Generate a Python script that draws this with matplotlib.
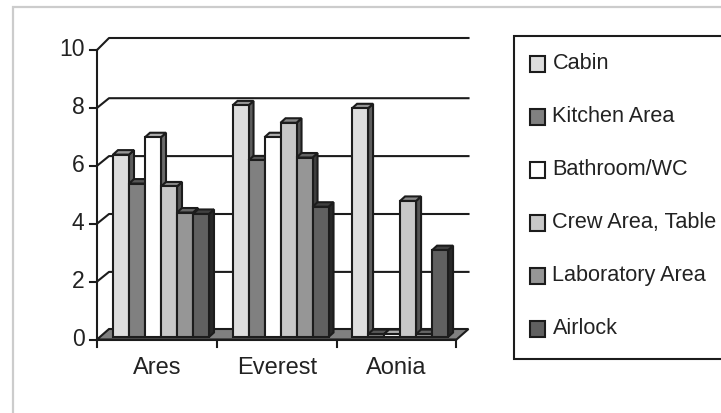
import matplotlib
matplotlib.use("Agg")
import matplotlib.pyplot as plt
from matplotlib.patches import Polygon, Rectangle
from matplotlib.colors import to_rgb

categories = ["Ares", "Everest", "Aonia"]
series = ["Cabin", "Kitchen Area", "Bathroom/WC", "Crew Area, Table", "Laboratory Area", "Airlock"]
cabin = [6.3, 8.0, 7.9]
kitchen = [5.3, 6.1, 0.1]
bathroom = [6.9, 6.9, 0.1]
crew = [5.2, 7.4, 4.7]
laboratory = [4.3, 6.2, 0.1]
airlock = [4.25, 4.5, 3.0]
values = [cabin, kitchen, bathroom, crew, laboratory, airlock]
colors = ["#DDDDDD", "#808080", "#FFFFFF", "#C8C8C8", "#969696", "#606060"]
yticks = [0, 2, 4, 6, 8, 10]

W, H = 721, 413
plt.rcParams["font.family"] = "Liberation Sans"
fig = plt.figure(figsize=(W / 100, H / 100), dpi=100)
L, R, T, B = 97, 456.5, 50, 339.5
ax = fig.add_axes([L / W, 1 - B / H, (R - L) / W, (B - T) / H])
ax.set_xlim(0, 3)
ax.set_ylim(0, 10)
ax.axis("off")

ux = (R - L) / 3
uy = (B - T) / 10
dx = 12 / ux
wall_dy = {2: 9.7 / uy, 4: 9.7 / uy, 6: 9.7 / uy, 8: 9.7 / uy, 10: 12 / uy}
floor_dy = 10.5 / uy
bw = 16 / ux
oy = 2.5 / uy
bdx, bdy = 5 / ux, 4.5 / uy
LW = 1.5
EC = "#1c1c1c"
TC = "#222222"

def shade(c, f):
    return tuple(v * f for v in to_rgb(c))

fig.add_artist(Rectangle((12.5 / W, -0.05), 1.2, 1 - 6.5 / H + 0.05, transform=fig.transFigure,
                         fc="none", ec="#CCCCCC", lw=1.6))

# floor
ax.add_patch(Polygon([(0, 0), (3, 0), (3 + dx, floor_dy), (dx, floor_dy)], closed=True, fc="#808080",
                     ec=EC, lw=LW, clip_on=False, zorder=1))
# gridlines and wall
for t in yticks[1:]:
    ax.plot([0, dx, 3 + dx], [t, t + wall_dy[t], t + wall_dy[t]], color=EC, lw=LW, clip_on=False, zorder=1)
ax.plot([0, 0], [0, 10], color=EC, lw=LW, clip_on=False, zorder=1)
ax.plot([0, 3], [0, 0], color=EC, lw=LW, clip_on=False, zorder=2)
# ticks
for t in yticks:
    ax.plot([0, -7 / ux], [t, t], color=EC, lw=LW, clip_on=False)
    ax.text(-12.5 / ux, t + 0.5 / uy, str(t), ha="right", va="center", fontsize=16.5, color=TC)
for i in range(4):
    ax.plot([i, i], [0, -7 / uy], color=EC, lw=LW, clip_on=False)
for i, c in enumerate(categories):
    ax.text(i + 0.5, -28 / uy, c, ha="center", va="center", fontsize=17, color=TC)

# bars
z = 3
for i in range(3):
    for s in range(6):
        x0 = i + (16 / ux) + (s * bw) - (0.3 * i) / ux
        y0 = oy
        v = values[s][i]
        x1, y1 = x0 + bw, y0 + v
        c = colors[s]
        ax.add_patch(Polygon([(x1, y0), (x1 + bdx, y0 + bdy), (x1 + bdx, y1 + bdy), (x1, y1)], closed=True,
                             fc=shade(c, 0.42), ec=EC, lw=LW, clip_on=False, zorder=z))
        ax.add_patch(Polygon([(x0, y1), (x1, y1), (x1 + bdx, y1 + bdy), (x0 + bdx, y1 + bdy)], closed=True,
                             fc=shade(c, 0.68), ec=EC, lw=LW, clip_on=False, zorder=z))
        ax.add_patch(Rectangle((x0, y0), bw, v, fc=c, ec=EC, lw=LW, clip_on=False, zorder=z + 0.1))
        z += 1

# legend, drawn in pixel coordinates of the figure
def fx(p): return p / W
def fy(p): return 1 - p / H
fig.add_artist(Rectangle((fx(514), fy(359)), fx(230), (359 - 36) / H, transform=fig.transFigure,
                         fc="white", ec=EC, lw=LW))
for s, name in enumerate(series):
    yc = 64 + s * 53
    fig.add_artist(Rectangle((fx(530), fy(yc + 8)), 15 / W, 16 / H, transform=fig.transFigure,
                             fc=colors[s], ec=EC, lw=LW))
    fig.text(fx(552.5), fy(yc - 0.5), name, ha="left", va="center", fontsize=15.6, color=TC)

fig.savefig("out.png", dpi=100, facecolor="white")
